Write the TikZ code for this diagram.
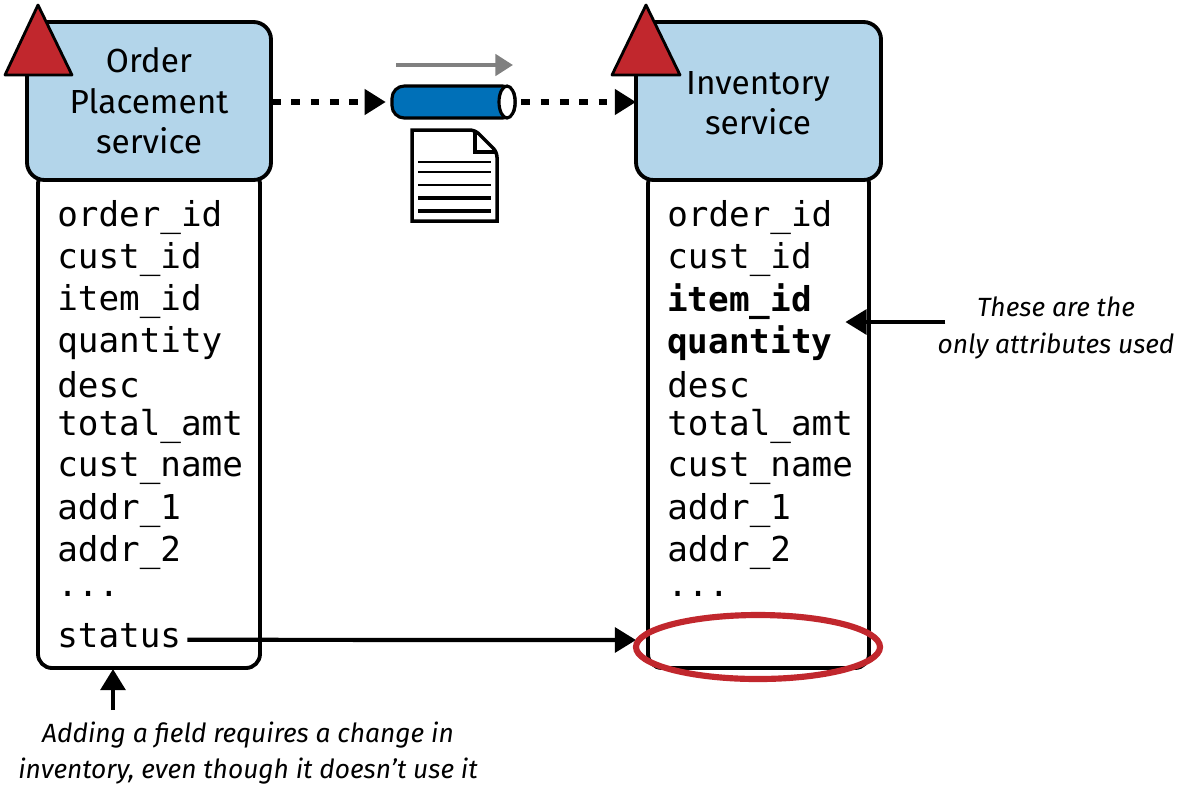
\documentclass[tikz,border=0pt]{standalone}
\usepackage{fontspec}
\setmainfont{Fira Sans}
\newfontfamily\monofont{DejaVu Sans Mono}
\usetikzlibrary{positioning, arrows.meta}
\definecolor{svcblue}{HTML}{B3D5EA}
\definecolor{pipeblue}{HTML}{0070B8}
\definecolor{alertred}{HTML}{C1272D}
\newcommand{\elided}{...}
\tikzset{x=0.02cm, y=-0.02cm,
header/.style={ % blue service head
draw, line width=2.2pt, fill=svcblue, rounded corners=10pt},
table/.style={ % attribute list below the head
draw, line width=2.2pt, fill=white, rounded corners=8pt},
field/.style={ % one attribute line
anchor=west, inner sep=0pt, font=\monofont\fontsize{19.5}{20}\selectfont},
note/.style={ % italic annotations
align=center, font=\itshape\fontsize{15}{21}\selectfont},
warn/.style={ % red triangle
draw, line width=1.6pt, fill=alertred, line join=round},
flow/.style={
line width=3pt, dash pattern=on 5pt off 6pt, -{Triangle[length=12pt,width=14pt]}},
solid arrow/.style={
line width=2.4pt, -{Triangle[length=12pt,width=14pt]}}}
\begin{document}
\begin{tikzpicture}
    \useasboundingbox (0,0) rectangle (1185,792);
    % left service
    \draw[table] (38,170) rectangle (260,668);
    \draw[header] (27,22) rectangle (271,180);
    \node[font=\fontsize{19}{23}\selectfont, align=center] (ops) at (149,101) {Order\\Placement\\service};
    \draw[warn] (5,75) -- (72,75) -- (38,5) -- cycle;
    % right service
    \draw[table] (648,170) rectangle (869,668);
    \draw[header] (636,22) rectangle (881,180);
    \node[font=\fontsize{19}{23}\selectfont, align=center] (inv) at (758,103) {Inventory\\service};
    \draw[warn] (612,75) -- (680,75) -- (646,5) -- cycle;
    % attribute lists
    \foreach \f [count=\i] in {order\_id,cust\_id,item\_id,quantity,desc,total\_amt,cust\_name,addr\_1,addr\_2,\elided,status}
        \node[field] (l\i) at (57,176+41.8*\i) {\f};
    \foreach \f [count=\i] in {order\_id,cust\_id,\textbf{item\_id},\textbf{quantity},desc,total\_amt,cust\_name,addr\_1,addr\_2,\elided}
        \node[field] (r\i) at (667,176+41.8*\i) {\f};
    % topic with message
    \coordinate (outL) at (272,102);
    \coordinate (inR) at (636,102);
    \fill[pipeblue, draw=black, line width=1.8pt, rounded corners=7pt] (392,86) rectangle (515,118);
    \draw[line width=1.8pt, fill=white] (507,102) ellipse (8 and 16);
    \node[minimum width=1pt] (pipeL) at (392,102) {};
    \node[minimum width=1pt] (pipeR) at (515,102) {};
    \draw[gray, line width=2.4pt, -{Triangle[length=10pt,width=12pt]}] (396,65) -- (513,65);
    \draw[line width=2pt, fill=white, rounded corners=3pt] (412,130) -- (475,130) -- (497,152) [sharp corners] -- (497,221) -- (412,221) -- cycle;
    \draw[line width=2pt] (475,130) -- (475,152) -- (497,152);
    \foreach \y/\w in {162/1.2pt,172/1.2pt,185/1.6pt,198/2pt,211/2.4pt}
        \draw[line width=\w] (418,\y) -- (491,\y);
    \draw[flow] (outL) -- (pipeL);
    \draw[flow] (pipeR) -- (inR);
    % status change
    \coordinate (slot) at (636,640);
    \draw[solid arrow] (l11.east) ++(6,4) -- (slot);
    \draw[alertred, line width=3.5pt] (758,647) ellipse (122 and 32);
    % annotations
    \node[note] (used) at (1056,328) {These are the\\only attributes used};
    \draw[solid arrow] (used.west) ++(14,-6) -- ++(-100,0);
    \node[note] (add) at (248,753) {Adding a field requires a change in\\inventory, even though it doesn't use it};
    \draw[solid arrow] (113,710) -- (113,669);
\end{tikzpicture}
\end{document}
